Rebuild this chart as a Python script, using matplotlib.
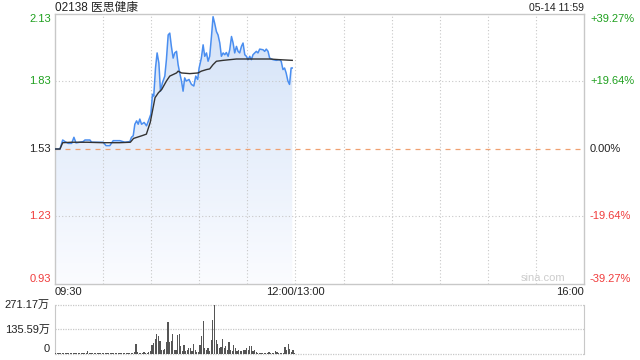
# 02138 医思健康 分时图 (05-14)

import numpy as np
import matplotlib.pyplot as plt
from matplotlib.colors import LinearSegmentedColormap
from matplotlib.transforms import blended_transform_factory

plt.rcParams['font.family'] = ['Liberation Sans', 'Noto Sans CJK SC', 'DejaVu Sans']

# 价格 (分钟从 09:30 起)
price_t = [0, 3.1, 4.8, 6.2, 8.3, 10.4, 11.8, 13.1, 17.6, 18.7, 21.8, 22.8, 30.1, 31.8,
           34.2, 36.3, 40.5, 43.6, 46.7, 47.7, 48.8, 49.8, 50.9, 51.9, 52.9, 54.0, 55.6,
           57.1, 58.7, 59.8, 60.8, 61.6, 62.7, 63.7, 64.8, 65.8, 67.0, 68.5, 69.5, 70.6,
           71.6, 72.6, 73.7, 74.7, 75.8, 76.8, 77.8, 78.9, 79.9, 80.9, 81.9, 83.6, 85.1,
           86.6, 87.8, 89.0, 89.9, 91.3, 92.4, 93.4, 94.5, 95.5, 96.5, 97.6, 98.6, 99.6,
           100.7, 101.7, 102.8, 103.8, 104.9, 105.9, 106.9, 108.0, 109.0, 110.1, 111.1,
           112.1, 113.2, 114.2, 115.2, 116.3, 117.3, 118.4, 119.4, 120.4, 121.5, 122.5,
           123.5, 124.6, 125.6, 126.6, 127.7, 129.8, 130.8, 131.8, 132.9, 133.9, 136.0,
           138.0, 140.1, 141.1, 142.2, 143.2, 144.2, 145.3, 146.3, 146.9, 147.3, 148.0]
price = [1.530, 1.530, 1.570, 1.563, 1.555, 1.555, 1.582, 1.557, 1.563, 1.570, 1.570, 1.560,
         1.560, 1.545, 1.545, 1.567, 1.567, 1.560, 1.563, 1.582, 1.589, 1.640, 1.655, 1.640,
         1.663, 1.640, 1.648, 1.633, 1.663, 1.685, 1.773, 1.765, 1.890, 1.957, 1.912, 1.787,
         1.824, 1.854, 1.927, 2.037, 2.045, 1.986, 1.934, 1.957, 1.964, 1.905, 1.868, 1.832,
         1.787, 1.846, 1.832, 1.839, 1.817, 1.810, 1.854, 1.839, 1.890, 1.934, 1.993, 1.942,
         1.957, 1.920, 1.942, 2.030, 2.118, 2.089, 2.052, 2.037, 2.001, 1.942, 1.957, 1.949,
         1.959, 1.942, 1.971, 2.030, 2.001, 1.957, 1.986, 1.964, 1.957, 1.986, 2.001, 1.949,
         1.942, 1.927, 1.942, 1.927, 1.949, 1.957, 1.964, 1.957, 1.974, 1.971, 1.964, 1.974,
         1.964, 1.934, 1.927, 1.924, 1.927, 1.920, 1.883, 1.890, 1.868, 1.832, 1.817, 1.861,
         1.890, 1.890]

# 均价
avg_t = [0, 3.1, 4.8, 10, 20, 30, 40, 47, 49, 54.2, 57, 59.4, 61.4, 62.4, 64.5, 66.6, 69.5,
         71.6, 73.7, 75.8, 76.8, 78.9, 84.1, 89.2, 91.3, 94.5, 96.5, 98.6, 100.7, 104.9,
         113.2, 121.5, 133.9, 140.1, 148.0]
avg = [1.530, 1.530, 1.558, 1.560, 1.560, 1.558, 1.558, 1.560, 1.577, 1.589, 1.596, 1.648,
       1.721, 1.758, 1.780, 1.795, 1.832, 1.854, 1.861, 1.868, 1.876, 1.868, 1.865, 1.868,
       1.876, 1.883, 1.886, 1.905, 1.920, 1.924, 1.930, 1.930, 1.930, 1.927, 1.924]

# 成交量 (万), 每分钟
volume = [8, 5, 6, 4, 7, 5, 6, 4, 5, 6,
          5, 7, 4, 6, 5, 8, 5, 4, 6, 5,
          16, 6, 5, 7, 5, 4, 6, 5, 7, 5,
          6, 5, 4, 6, 5, 7, 4, 5, 6, 4,
          5, 6, 4, 5, 7, 5, 4, 6, 5, 9,
          57, 9, 6, 8, 5, 9, 7, 6, 12, 15,
          51, 60, 82, 112, 101, 71, 20, 20, 27, 66,
          176, 66, 70, 112, 20, 20, 106, 112, 42, 15,
          51, 15, 24, 33, 33, 15, 57, 24, 9, 9,
          48, 97, 183, 33, 24, 33, 15, 79, 189, 271,
          79, 57, 33, 38, 82, 33, 42, 24, 64, 24,
          15, 51, 33, 15, 20, 18, 15, 24, 20, 33,
          24, 42, 46, 15, 20, 9, 7, 5, 5, 6,
          5, 6, 5, 9, 5, 5, 6, 15, 9, 5,
          5, 6, 5, 38, 24, 57, 27, 9, 20, 5]

prev_close = 1.53
left_ticks = [2.13, 1.83, 1.53, 1.23, 0.93]
right_labels = ["+39.27%", "+19.64%", "0.00%", "-19.64%", "-39.27%"]
vol_ticks = [0, 135.59, 271.17]
vol_labels = ["0", "135.59万", "271.17万"]

green = "#1ea01e"
red = "#f03c3c"
grid_c = "#c8c8c8"

fig = plt.figure(figsize=(6.4, 3.6), dpi=100)
ax = fig.add_axes([55 / 640, 76 / 360, 529 / 640, 270 / 360])
axv = fig.add_axes([55 / 640, 6 / 360, 529 / 640, 49 / 360])

# 主图
for x in range(30, 330, 30):
    ax.axvline(x, color=grid_c, lw=0.8, ls=(0, (1, 2)), zorder=2.5)
for y in [1.83, 1.23]:
    ax.axhline(y, color=grid_c, lw=0.8, ls=(0, (1, 2)), zorder=2.5)
ax.axhline(prev_close, color="#f0a070", lw=0.9, ls=(0, (4, 4)), zorder=2.6)

# 渐变填充
poly = ax.fill_between(price_t, price, 0.93, color="none", lw=0)
grad = np.linspace(1, 0, 256).reshape(-1, 1)
cmap = LinearSegmentedColormap.from_list("g", ["#fbfcff", "#d3e2f8"])
img = ax.imshow(grad, cmap=cmap, aspect="auto", extent=[0, 330, 0.93, 2.13],
                origin="upper", zorder=2)
img.set_clip_path(poly.get_paths()[0], transform=ax.transData)
ax.set_xlim(0, 330)
ax.set_ylim(0.93, 2.13)

ax.plot(price_t, price, color="#4a8ef0", lw=1.1, zorder=3)
ax.plot(avg_t, avg, color="#333333", lw=1.0, zorder=4)

ax.set_xticks([])
ax.set_yticks([])
for s in ax.spines.values():
    s.set_color(grid_c)
    s.set_linewidth(1)

tl = blended_transform_factory(fig.transFigure, ax.transData)
for i, (v, lab) in enumerate(zip(left_ticks, right_labels)):
    c = green if v > prev_close else (red if v < prev_close else "#222222")
    va = "top" if i == 0 else ("bottom" if i == len(left_ticks) - 1 else "center")
    ax.text(51 / 640, v, f"{v:.2f}", transform=tl, ha="right", va=va, fontsize=8, color=c)
    ax.text(590 / 640, v, lab, transform=tl, ha="left", va=va, fontsize=8, color=c)

fig.text(55 / 640, 1 - 8 / 360, "02138 医思健康", ha="left", va="center", fontsize=8.5,
         color="#222222")
fig.text(584 / 640, 1 - 8 / 360, "05-14 11:59", ha="right", va="center", fontsize=7.5,
         color="#222222")
ax.text(0.965, 0.005, "sina.com", transform=ax.transAxes, ha="right", va="bottom",
        fontsize=8, color="#cccccc")

fig.text(55 / 640, 1 - 292 / 360, "09:30", ha="left", va="center", fontsize=8, color="#222222")
fig.text(295 / 640, 1 - 292 / 360, "12:00/13:00", ha="center", va="center", fontsize=8,
         color="#222222")
fig.text(584 / 640, 1 - 292 / 360, "16:00", ha="right", va="center", fontsize=8,
         color="#222222")

# 成交量
axv.set_xlim(0, 330)
axv.set_ylim(0, 271.17)
axv.bar(np.arange(len(volume)) + 0.5, volume, width=0.75, color="#555555", zorder=3)
for y in vol_ticks:
    axv.axhline(y, color=grid_c, lw=0.9, ls=(0, (1, 1)), zorder=1, clip_on=False)
axv.set_xticks([])
axv.set_yticks([])
axv.spines["top"].set_visible(False)
axv.spines["bottom"].set_visible(False)
axv.spines["left"].set_color(grid_c)
axv.spines["right"].set_color(grid_c)
tv = blended_transform_factory(fig.transFigure, axv.transData)
for v, lab in zip(vol_ticks, vol_labels):
    va = "bottom" if v == 0 else "center"
    axv.text(50 / 640, v, lab, transform=tv, ha="right", va=va, fontsize=8, color="#222222")

fig.savefig("out.png", dpi=100)
